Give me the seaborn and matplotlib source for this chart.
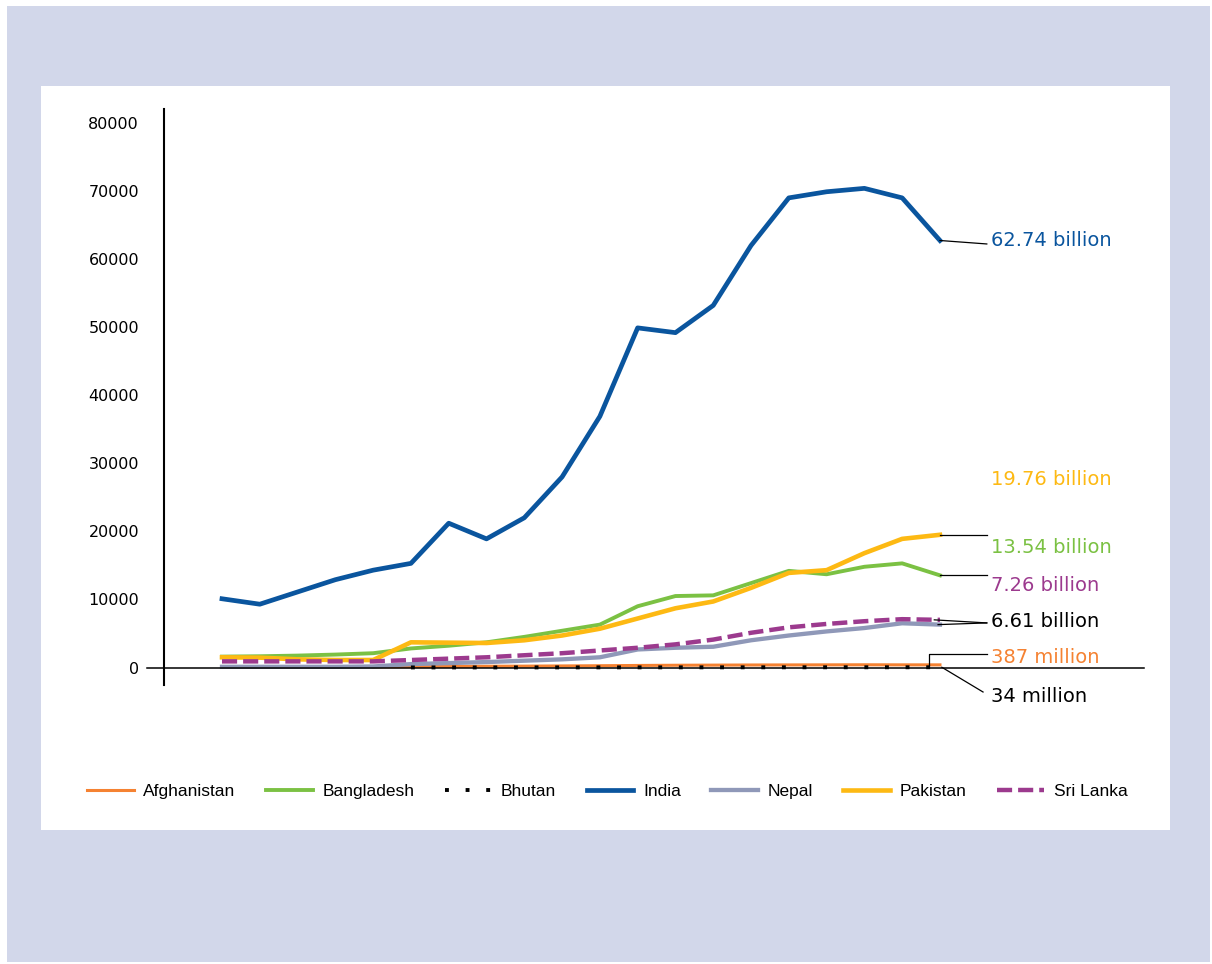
import matplotlib
matplotlib.use("Agg")
import matplotlib.pyplot as plt
import seaborn as sns
from matplotlib.patches import Rectangle

# ---------------- data (USD millions) ----------------
years = list(range(1997, 2017))
afghanistan_years = list(range(2001, 2017))
bhutan_years = list(range(2002, 2017))

afghanistan = [100, 120, 150, 180, 200, 230, 260, 300, 330, 350, 370, 380, 390, 400, 390, 387]
bangladesh = [1600, 1650, 1750, 1900, 2100, 2800, 3200, 3700, 4500, 5400,
              6300, 9000, 10500, 10600, 12400, 14200, 13700, 14800, 15300, 13540]
bhutan = [10, 10, 10, 12, 15, 18, 20, 22, 25, 28, 30, 32, 34, 35, 34]
india = [10100, 9300, 11100, 12900, 14300, 15300, 21200, 18900, 22000, 28000,
         36900, 49900, 49200, 53200, 62000, 69000, 69900, 70400, 69000, 62740]
nepal = [100, 100, 100, 100, 150, 500, 650, 800, 1000, 1200,
         1500, 2650, 2900, 3050, 4000, 4700, 5300, 5800, 6500, 6300]
pakistan = [1500, 1450, 1200, 1100, 1100, 3700, 3650, 3600, 4000, 4700,
            5700, 7200, 8700, 9700, 11700, 13900, 14300, 16800, 18900, 19500]
sri_lanka = [900, 900, 900, 900, 900, 1100, 1300, 1500, 1800, 2100,
             2500, 2900, 3400, 4100, 5100, 5900, 6400, 6800, 7100, 7000]

countries = ["Afghanistan", "Bangladesh", "Bhutan", "India", "Nepal", "Pakistan", "Sri Lanka"]
end_labels = ["387 million", "13.54 billion", "34 million", "62.74 billion",
              "6.61 billion", "19.76 billion", "7.26 billion"]
ytick_values = [0, 10000, 20000, 30000, 40000, 50000, 60000, 70000, 80000]

# ---------------- styles ----------------
LAV = "#d2d7ea"
C_AFG = "#f58232"
C_BGD = "#7bc143"
C_BTN = "#000000"
C_IND = "#0a559e"
C_NPL = "#8f98b8"
C_PAK = "#fdb913"
C_LKA = "#9c3a8e"

W, H = 1212, 964
fig = plt.figure(figsize=(W / 100, H / 100), dpi=100)
fig.patch.set_facecolor("white")
fig.add_artist(Rectangle((7 / W, 2 / H), 1203 / W, 956 / H, transform=fig.transFigure,
                         facecolor=LAV, edgecolor="none", zorder=-2))
fig.add_artist(Rectangle((41 / W, 134 / H), 1129 / W, 744 / H, transform=fig.transFigure,
                         facecolor="white", edgecolor="none", zorder=-1))

ax = fig.add_axes([164 / W, 279 / H, 980 / W, 576 / H])
ax.patch.set_alpha(0)

series = [
    (countries[0], afghanistan_years, afghanistan, C_AFG, 2.2, "-", 2),
    (countries[1], years, bangladesh, C_BGD, 2.8, "-", 2),
    (countries[2], bhutan_years, bhutan, C_BTN, 2.8, (0, (1.0, 4.3)), 4),
    (countries[3], years, india, C_IND, 3.4, "-", 2),
    (countries[4], years, nepal, C_NPL, 3.1, "-", 2),
    (countries[5], years, pakistan, C_PAK, 3.3, "-", 2),
    (countries[6], years, sri_lanka, C_LKA, 3.2, (0, (3.4, 1.35)), 2),
]
for name, xs, ys, col, lw, ls, z in series:
    sns.lineplot(x=xs, y=ys, ax=ax, color=col, linewidth=lw, linestyle=ls,
                 label=name, zorder=z, sort=False, errorbar=None)

ax.axhline(0, xmin=-17 / 980, xmax=1, color="black", lw=1.1, clip_on=False, zorder=3)

ax.set_xlim(1995.465, 2021.40)
ax.set_ylim(-2571, 82060)
ax.set_xticks([])
ax.set_yticks(ytick_values)
ax.set_yticklabels([str(v) for v in ytick_values], family="DejaVu Sans", fontsize=11.5)
ax.tick_params(axis="y", length=0, pad=18)
for s in ["top", "right", "bottom"]:
    ax.spines[s].set_visible(False)
ax.spines["left"].set_linewidth(1.5)
ax.spines["left"].set_color("black")
ax.set_xlabel("")
ax.set_ylabel("")

# ---------------- end labels with leader lines ----------------
LX = 2017.24   # leader end
TX = 2017.35   # text start
leaders = [
    ([2016, LX], [india[-1], 62230]),
    ([2016, LX], [pakistan[-1], pakistan[-1]]),
    ([2016, LX], [bangladesh[-1], bangladesh[-1]]),
    ([2015.85, LX], [sri_lanka[-1], 6550]),
    ([2015.95, LX], [nepal[-1], 6550]),
    ([2015.71, 2015.71, LX], [afghanistan[-1], 1980, 1980]),
    ([2016.05, 2017.14], [bhutan[-1], -3600]),
]
for lx, ly in leaders:
    ax.plot(lx, ly, color="black", lw=0.9, clip_on=False, zorder=5)

label_specs = [
    (end_labels[3], 62670, C_IND),
    (end_labels[5], 27550, C_PAK),
    (end_labels[1], 17700, C_BGD),
    (end_labels[6], 11975, C_LKA),
    (end_labels[4], 6830, "black"),
    (end_labels[0], 1540, C_AFG),
    (end_labels[2], -4330, "black"),
]
for txt, y, col in label_specs:
    ax.text(TX, y, txt, color=col, fontsize=14, family="DejaVu Sans",
            ha="left", va="center", clip_on=False)

# ---------------- legend ----------------
handles, labels = ax.get_legend_handles_labels()
if ax.get_legend() is not None:
    ax.get_legend().remove()
fig.legend(handles, labels, loc="center", bbox_to_anchor=(607 / W, 1 - 791 / H),
           ncol=7, frameon=False, handlelength=2.7, handletextpad=0.55,
           columnspacing=1.75, prop=dict(family=["Liberation Sans", "DejaVu Sans"], size=12.5))

fig.savefig("out.png", dpi=100, facecolor=fig.get_facecolor())
